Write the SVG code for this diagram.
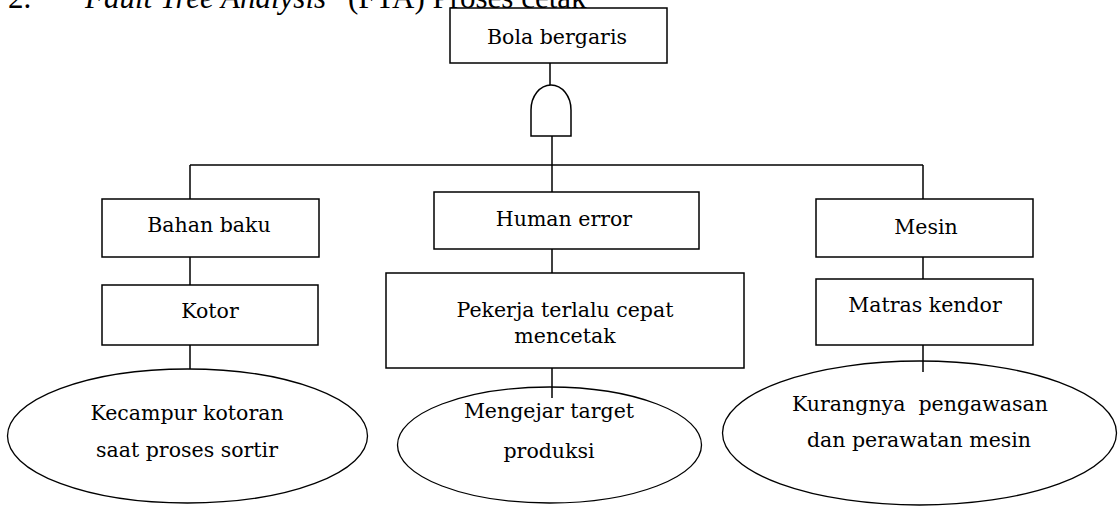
<svg xmlns="http://www.w3.org/2000/svg" width="1118" height="506" viewBox="0 0 1118 506">
  <style>
    .box { fill: #ffffff; stroke: #000000; stroke-width: 1.5; }
    .oval { fill: #ffffff; stroke: #000000; stroke-width: 1.3; }
    .gate { fill: #ffffff; stroke: #000000; stroke-width: 1.5; }
    .wire { fill: none; stroke: #000000; stroke-width: 1.5; }
    .lbl { font-family: "DejaVu Serif", "Liberation Serif", serif; font-size: 20.5px; fill: #000000; text-anchor: middle; }
    .head { font-family: "Liberation Serif", "Times New Roman", serif; font-size: 31px; fill: #000000; }
  </style>
  <rect width="1118" height="506" fill="#ffffff"/>

  <!-- section heading (runs off the top edge) -->
  <g id="heading">
    <text class="head" x="8" y="8">2.</text>
    <text class="head" x="85" y="8" font-style="italic">Fault Tree Analysis</text>
    <text class="head" x="348" y="8">(FTA) Proses cetak</text>
  </g>

  <!-- top event -->
  <g id="top-event">
    <rect class="box" x="450" y="8" width="217" height="55"/>
    <text class="lbl" x="557" y="44">Bola bergaris</text>
  </g>

  <!-- AND gate -->
  <g id="gate-and">
    <path class="gate" d="M531,136 V110 A20,25 0 0 1 571,110 V136 Z"/>
  </g>

  <!-- first level causes -->
  <g id="bahan-baku">
    <rect class="box" x="102" y="199" width="217" height="58"/>
    <text class="lbl" x="209" y="232">Bahan baku</text>
  </g>
  <g id="human-error">
    <rect class="box" x="434" y="192" width="265" height="57"/>
    <text class="lbl" x="564" y="226">Human error</text>
  </g>
  <g id="mesin">
    <rect class="box" x="816" y="199" width="217" height="58"/>
    <text class="lbl" x="926" y="234">Mesin</text>
  </g>

  <!-- second level causes -->
  <g id="kotor">
    <rect class="box" x="102" y="285" width="216" height="60"/>
    <text class="lbl" x="210" y="318">Kotor</text>
  </g>
  <g id="pekerja-cepat">
    <rect class="box" x="386" y="273" width="358" height="95"/>
    <text class="lbl" x="565" y="317">Pekerja terlalu cepat</text>
    <text class="lbl" x="565" y="343">mencetak</text>
  </g>
  <g id="matras-kendor">
    <rect class="box" x="816" y="279" width="217" height="66"/>
    <text class="lbl" x="925" y="312">Matras kendor</text>
  </g>

  <!-- basic events -->
  <g id="kecampur-kotoran">
    <ellipse class="oval" cx="187.5" cy="436" rx="180" ry="67"/>
    <text class="lbl" x="187" y="420">Kecampur kotoran</text>
    <text class="lbl" x="187" y="457">saat proses sortir</text>
  </g>
  <g id="mengejar-target">
    <ellipse class="oval" cx="549.5" cy="445" rx="152" ry="58"/>
    <text class="lbl" x="549" y="418">Mengejar target</text>
    <text class="lbl" x="549" y="458">produksi</text>
  </g>
  <g id="kurang-pengawasan">
    <ellipse class="oval" cx="919.5" cy="433" rx="197" ry="72"/>
    <text class="lbl" x="920" y="411" xml:space="preserve">Kurangnya  pengawasan</text>
    <text class="lbl" x="919" y="447">dan perawatan mesin</text>
  </g>

  <!-- connectors -->
  <g id="connectors" class="wire">
    <line x1="550" y1="63" x2="550" y2="85"/>
    <line x1="552" y1="136" x2="552" y2="192"/>
    <line x1="190" y1="165" x2="923" y2="165"/>
    <line x1="190" y1="165" x2="190" y2="199"/>
    <line x1="923" y1="165" x2="923" y2="199"/>
    <line x1="190" y1="257" x2="190" y2="285"/>
    <line x1="552" y1="249" x2="552" y2="273"/>
    <line x1="923" y1="257" x2="923" y2="279"/>
    <line x1="190" y1="345" x2="190" y2="369"/>
    <line x1="552" y1="368" x2="552" y2="398"/>
    <line x1="923" y1="345" x2="923" y2="372"/>
  </g>
</svg>
